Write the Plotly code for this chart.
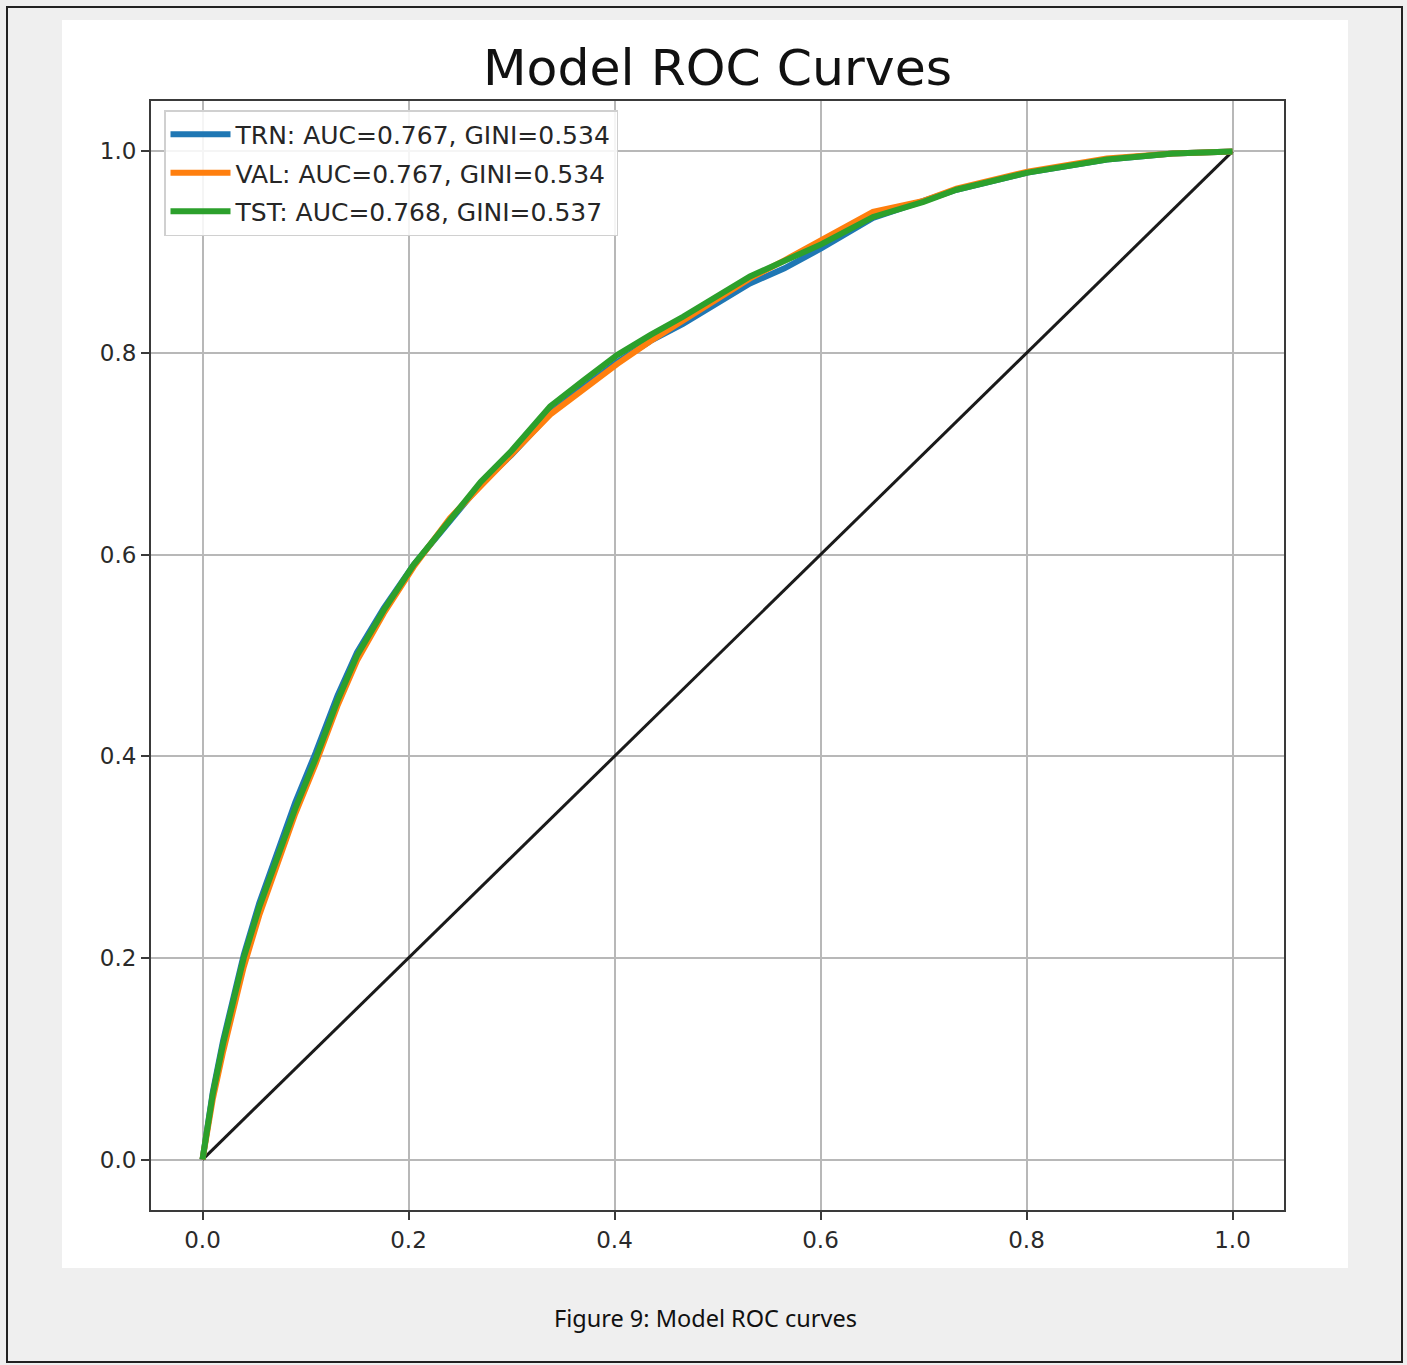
import plotly.graph_objects as go

# ---------------- data ----------------
fpr = [0, 0.005, 0.01, 0.02, 0.03, 0.04, 0.055, 0.073, 0.09, 0.11, 0.131, 0.15,
       0.176, 0.205, 0.24, 0.27, 0.30, 0.3375, 0.37, 0.4025, 0.435, 0.4665,
       0.5315, 0.565, 0.601, 0.651, 0.70, 0.732, 0.801, 0.878, 0.942, 1.0]

tpr_trn = [0, 0.036, 0.067, 0.118, 0.163, 0.203, 0.254, 0.306, 0.354, 0.404, 0.460, 0.503,
           0.547, 0.590, 0.634, 0.670, 0.699, 0.740, 0.766, 0.791, 0.812, 0.829,
           0.869, 0.884, 0.904, 0.934, 0.951, 0.962, 0.979, 0.992, 0.998, 1.0]

tpr_val = [0, 0.032, 0.060, 0.107, 0.151, 0.191, 0.242, 0.293, 0.343, 0.393, 0.450, 0.495,
           0.542, 0.588, 0.636, 0.668, 0.700, 0.739, 0.764, 0.789, 0.812, 0.832,
           0.874, 0.892, 0.912, 0.940, 0.951, 0.963, 0.980, 0.993, 0.998, 1.0]

tpr_tst = [0, 0.035, 0.065, 0.115, 0.160, 0.200, 0.250, 0.300, 0.348, 0.398, 0.455, 0.500,
           0.545, 0.590, 0.635, 0.672, 0.703, 0.747, 0.773, 0.798, 0.818, 0.836,
           0.876, 0.892, 0.908, 0.935, 0.950, 0.962, 0.979, 0.992, 0.998, 1.0]

diag = [0, 1]

names = ["TRN: AUC=0.767, GINI=0.534",
         "VAL: AUC=0.767, GINI=0.534",
         "TST: AUC=0.768, GINI=0.537"]
colors = ["#1f77b4", "#ff7f0e", "#2ca02c"]

tick_vals = [0.0, 0.2, 0.4, 0.6, 0.8, 1.0]
tick_text = ["0.0", "0.2", "0.4", "0.6", "0.8", "1.0"]

title_text = "Model ROC Curves"
caption_text = "Figure 9: Model ROC curves"

# ---------------- layout geometry ----------------
W, H = 1407, 1365
ML, MR, MT, MB = 151, W - 1284, 101, H - 1210
PW, PH = W - ML - MR, H - MT - MB


def px_x(p):
    return (p - ML) / PW


def px_y(p):
    return (H - MB - p) / PH


fig = go.Figure()

fig.add_trace(go.Scatter(x=diag, y=diag, mode="lines",
                         line=dict(color="#1a1a1a", width=3),
                         showlegend=False, hoverinfo="skip"))

for tpr, nm, col in zip([tpr_trn, tpr_val, tpr_tst], names, colors):
    fig.add_trace(go.Scatter(x=fpr, y=tpr, mode="lines", name=nm,
                             legendgroup=nm,
                             line=dict(color=col, width=6)))

axis_common = dict(
    range=[-0.05, 1.05],
    tickmode="array", tickvals=tick_vals, ticktext=tick_text,
    showgrid=True, gridcolor="#b8b8b8", gridwidth=1.8,
    zeroline=False,
    showline=True, mirror=True, linecolor="#3a3a3a", linewidth=2,
    ticks="outside", ticklen=8, tickwidth=2, tickcolor="#3a3a3a",
    tickfont=dict(family="DejaVu Sans", size=23, color="#2a2a2a"),
)

fig.update_layout(
    width=W, height=H,
    margin=dict(l=ML, r=MR, t=MT, b=MB),
    paper_bgcolor="#efefef",
    plot_bgcolor="white",
    xaxis=axis_common,
    yaxis=axis_common,
    showlegend=True,
    legend=dict(
        x=px_x(164), y=px_y(110), xanchor="left", yanchor="top",
        bgcolor="rgba(255,255,255,0.85)", bordercolor="#d0d0d0", borderwidth=1.5,
        font=dict(family="DejaVu Sans", size=25, color="#262626"),
        tracegroupgap=3, itemwidth=60,
    ),
    shapes=[
        dict(type="rect", xref="paper", yref="paper", layer="below",
             x0=px_x(62), x1=px_x(1348), y0=px_y(1268), y1=px_y(20),
             fillcolor="white", line=dict(width=0)),
        dict(type="rect", xref="paper", yref="paper", layer="below",
             x0=px_x(7), x1=px_x(1402), y0=px_y(1362), y1=px_y(7),
             fillcolor="rgba(0,0,0,0)", line=dict(color="#222222", width=2)),
    ],
    annotations=[
        dict(text=title_text, xref="paper", yref="paper",
             x=0.5, y=px_y(68), xanchor="center", yanchor="middle",
             showarrow=False,
             font=dict(family="DejaVu Sans", size=50.5, color="#111111")),
        dict(text=caption_text, xref="paper", yref="paper",
             x=px_x(705), y=px_y(1318), xanchor="center", yanchor="middle",
             showarrow=False,
             font=dict(family="Noto Sans", size=23.5, color="#111111")),
    ],
)

fig.write_html("out.html",
               config={"displayModeBar": False},
               post_script="document.body.style.margin='0';document.body.style.overflow='hidden';")
